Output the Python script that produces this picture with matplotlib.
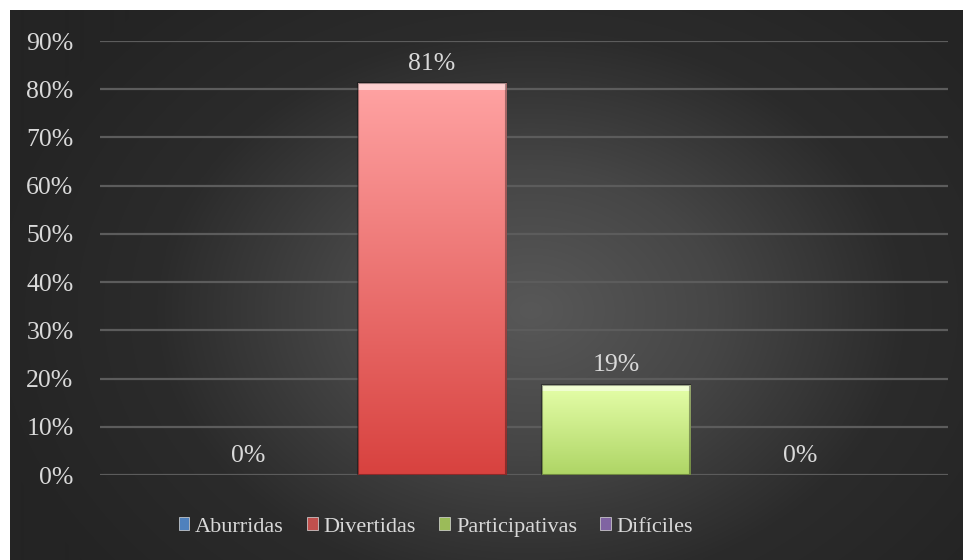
import numpy as np
import matplotlib.pyplot as plt
from matplotlib.patches import Patch
from matplotlib.colors import LinearSegmentedColormap

# data
series = ['Aburridas', 'Divertidas', 'Participativas', 'Difíciles']
values = [0.0, 0.8125, 0.1875, 0.0]
labels = ['0%', '81%', '19%', '0%']
yticks = [0, 0.1, 0.2, 0.3, 0.4, 0.5, 0.6, 0.7, 0.8, 0.9]

legend_colors = ['#4f81bd', '#c0504d', '#9bbb59', '#8064a2']
bar_tops = ['#6f9fe0', '#ffa3a3', '#e6ffaa', '#a58ad0']
bar_bottoms = ['#3f6fb0', '#d8423f', '#aed565', '#6f52a0']

plt.rcParams['font.family'] = ['Liberation Serif', 'DejaVu Serif']
txt_color = '#d9d9d9'

fig = plt.figure(figsize=(9.63, 5.6), dpi=100)
fig.patch.set_facecolor('white')

# radial gradient background
bg = fig.add_axes([10 / 963, 0, 953 / 963, 550 / 560])
bg.set_axis_off()
yy, xx = np.mgrid[0:550, 0:953]
r = np.sqrt(((xx - 520) / 560.0) ** 2 + ((yy - 300) / 420.0) ** 2)
r = np.clip(r, 0, 1)
bg_cmap = LinearSegmentedColormap.from_list('bg', ['#585858', '#464646', '#2b2b2b', '#242424'])
bg.imshow(r, cmap=bg_cmap, vmin=0, vmax=1, aspect='auto', interpolation='bilinear')

ax = fig.add_axes([100 / 963, (560 - 475) / 560, 848 / 963, (475 - 41) / 560])
ax.patch.set_alpha(0)

pitch = 1.0
width = 148 / 184
x = np.arange(len(series)) * pitch
half = 424 / 184
ax.set_xlim(1.5 - half, 1.5 + half)
ax.set_ylim(0, 0.9)

for yt in yticks:
    ax.axhline(yt, color='#5c5c5c', lw=1.6, zorder=1)

grad = np.linspace(0, 1, 256).reshape(-1, 1)
for i in range(len(series)):
    v = values[i]
    if v > 0:
        x0 = x[i] - width / 2
        rect = plt.Rectangle((x0, 0), width, v, facecolor='none', edgecolor='none', zorder=2)
        ax.add_patch(rect)
        cm = LinearSegmentedColormap.from_list('b%d' % i, [bar_tops[i], bar_bottoms[i]])
        im = ax.imshow(grad, cmap=cm, extent=(x0, x0 + width, 0, v), aspect='auto',
                       origin='upper', zorder=2, interpolation='bilinear')
        im.set_clip_path(rect)
        # bevel: light top strip, darker sides
        ax.add_patch(plt.Rectangle((x0, v - 0.014), width, 0.014, facecolor='white',
                                   alpha=0.5, edgecolor='none', zorder=3))
        ax.add_patch(plt.Rectangle((x0, 0), width, v, facecolor='none',
                                   edgecolor='#000000', alpha=0.35, lw=1.5, zorder=3))
    ax.annotate(labels[i], (x[i], v), xytext=(0, 6), textcoords='offset points',
                ha='center', va='bottom', color=txt_color, fontsize=18.5)

ax.set_yticks(yticks)
ax.set_yticklabels(['%d%%' % round(t * 100) for t in yticks], fontsize=18.5, color=txt_color)
ax.tick_params(axis='y', length=0, pad=19)
ax.set_xticks([])
for s in ax.spines.values():
    s.set_visible(False)

handles = [Patch(facecolor=c, edgecolor='#dddddd', lw=0.5) for c in legend_colors]
leg = fig.legend(handles, series, loc='center', bbox_to_anchor=(436 / 963, 1 - 527 / 560),
                 ncol=4, frameon=False, fontsize=16, handlelength=0.47, handleheight=0.5,
                 handletextpad=0.27, columnspacing=1.05, labelcolor=txt_color)

fig.savefig('out.png', dpi=100)
